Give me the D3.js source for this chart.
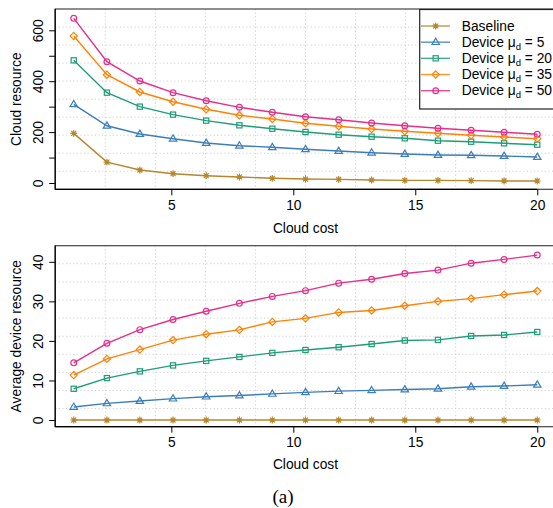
<!DOCTYPE html>
<html>
<head>
<meta charset="utf-8">
<script src="https://cdn.jsdelivr.net/npm/d3@7"></script>
<style>
  body { margin: 0; background: #fff; }
  svg { display: block; }
  text { font-family: "Liberation Sans", Arial, sans-serif; fill: #000; }
</style>
</head>
<body>
<svg id="chart" width="553" height="508"></svg>
<script>
// ---------------- DATA ----------------
const cloudCost = [1, 2.36, 3.71, 5.07, 6.43, 7.79, 9.14, 10.5, 11.86, 13.21, 14.57, 15.93, 17.29, 18.64, 20];

const seriesNames = ["Baseline", "Device μd = 5", "Device μd = 20", "Device μd = 35", "Device μd = 50"];
const seriesMu = [null, "5", "20", "35", "50"];

// Top panel: Cloud resource
const cloudBaseline = [195, 82, 51, 36.5, 28.7, 23.6, 18.5, 15.7, 14.4, 11.8, 10.5, 10.5, 9.2, 7.9, 7.9];
const cloudMu5      = [309, 225, 192.5, 174, 157, 146.6, 140.3, 132.4, 125.7, 119.1, 114, 110, 108.8, 106, 102.2];
const cloudMu20     = [482, 355, 300, 268.6, 245, 226.7, 213.4, 200.4, 189.8, 181.9, 175.6, 166.2, 162.3, 156, 150.5];
const cloudMu35     = [577.6, 425.5, 357.6, 319.4, 289.6, 266, 251.5, 234.6, 222.8, 212.2, 203.1, 195.3, 187.4, 180.7, 174.1];
const cloudMu50     = [647, 476.6, 400.8, 354.9, 323.4, 297.4, 277.8, 260.5, 248.7, 235.8, 225.2, 214.9, 207, 199.2, 191.4];

// Bottom panel: Average device resource
const devBaseline = [0, 0, 0, 0, 0, 0, 0, 0, 0, 0, 0, 0, 0, 0, 0];
const devMu5      = [3.3, 4.2, 4.8, 5.4, 5.9, 6.2, 6.6, 7.0, 7.3, 7.5, 7.7, 7.9, 8.4, 8.6, 8.9];
const devMu20     = [7.9, 10.6, 12.3, 13.8, 14.95, 15.95, 16.97, 17.7, 18.4, 19.2, 20.1, 20.25, 21.25, 21.5, 22.25];
const devMu35     = [11.35, 15.45, 17.8, 20.2, 21.7, 22.8, 24.8, 25.7, 27.2, 27.7, 28.9, 30.0, 30.7, 31.7, 32.6];
const devMu50     = [14.45, 19.4, 22.85, 25.4, 27.5, 29.5, 31.25, 32.7, 34.6, 35.6, 37.05, 37.9, 39.65, 40.6, 41.7];

const xTicks = [5, 10, 15, 20];
const topYTicks = [0, 100, 200, 300, 400, 500, 600];
const topYLabels = [0, 200, 400, 600];
const botYTicks = [0, 10, 20, 30, 40];

const colors = ["#B5862C", "#3B7EBA", "#1E9E78", "#FF8205", "#E62E8B"];
const shapes = ["asterisk", "triangle", "square", "diamond", "circle"];

// ---------------- LAYOUT ----------------
const svg = d3.select("#chart");
const X0 = 55.2, X1 = 555.8;
const FS = "13.8px";
const x = d3.scaleLinear().domain([0.24, 20.76]).range([X0, X1]);

const panels = [
  { y0: 9, y1: 189.3, domain: [-24.75, 683.7], series: [cloudBaseline, cloudMu5, cloudMu20, cloudMu35, cloudMu50],
    yTicks: topYTicks, yLabels: topYLabels, yTitle: "Cloud resource", xLabelBase: 210, xTitleBase: 233 },
  { y0: 245.7, y1: 426.7, domain: [-1.69, 44.07], series: [devBaseline, devMu5, devMu20, devMu35, devMu50],
    yTicks: botYTicks, yLabels: botYTicks, yTitle: "Average device resource", xLabelBase: 446.7, xTitleBase: 469 }
];

function drawMarker(g, shape, cx, cy, color) {
  const sw = 1.2;
  if (shape === "circle") {
    g.append("circle").attr("cx", cx).attr("cy", cy).attr("r", 2.9)
      .attr("fill", "none").attr("stroke", color).attr("stroke-width", sw);
  } else if (shape === "square") {
    const s = 2.6;
    g.append("rect").attr("x", cx - s).attr("y", cy - s).attr("width", 2 * s).attr("height", 2 * s)
      .attr("fill", "none").attr("stroke", color).attr("stroke-width", sw);
  } else if (shape === "diamond") {
    const s = 3.6;
    g.append("path").attr("d", `M${cx},${cy - s}L${cx + s},${cy}L${cx},${cy + s}L${cx - s},${cy}Z`)
      .attr("fill", "none").attr("stroke", color).attr("stroke-width", sw);
  } else if (shape === "triangle") {
    const s = 3.9;
    g.append("path").attr("d", `M${cx},${cy - s}L${cx + s * 0.95},${cy + s * 0.6}L${cx - s * 0.95},${cy + s * 0.6}Z`)
      .attr("fill", "none").attr("stroke", color).attr("stroke-width", sw);
  } else if (shape === "asterisk") {
    const s = 3.4, d = s * 0.72;
    g.append("path").attr("d",
      `M${cx - s},${cy}L${cx + s},${cy}M${cx},${cy - s}L${cx},${cy + s}` +
      `M${cx - d},${cy - d}L${cx + d},${cy + d}M${cx - d},${cy + d}L${cx + d},${cy - d}`)
      .attr("fill", "none").attr("stroke", color).attr("stroke-width", sw);
  }
}

panels.forEach(p => {
  const y = d3.scaleLinear().domain(p.domain).range([p.y1, p.y0]);
  const g = svg.append("g");

  // grid: 10 equal divisions each way (dotted light gray)
  const grid = g.append("g").attr("stroke", "#d0d0d0").attr("stroke-width", 1).attr("stroke-dasharray", "1.2,2.4");
  for (let k = 1; k < 10; k++) {
    const gx = X0 + (X1 - X0) * k / 10;
    grid.append("line").attr("x1", gx).attr("x2", gx).attr("y1", p.y0).attr("y2", p.y1);
    const gy = p.y0 + (p.y1 - p.y0) * k / 10;
    grid.append("line").attr("x1", X0).attr("x2", X1).attr("y1", gy).attr("y2", gy);
  }

  // series lines
  const line = d3.line().x((d, i) => x(cloudCost[i])).y(d => y(d));
  p.series.forEach((vals, si) => {
    g.append("path").datum(vals).attr("d", line)
      .attr("fill", "none").attr("stroke", colors[si]).attr("stroke-width", 1.4);
    const mg = g.append("g");
    vals.forEach((v, i) => drawMarker(mg, shapes[si], x(cloudCost[i]), y(v), colors[si]));
  });

  // box
  g.append("rect").attr("x", X0).attr("y", p.y0).attr("width", X1 - X0).attr("height", p.y1 - p.y0)
    .attr("fill", "none").attr("stroke", "#444").attr("stroke-width", 1.2);

  // y axis
  const yAxis = d3.axisLeft(y).tickValues(p.yTicks).tickSize(6)
    .tickFormat(d => p.yLabels.includes(d) ? d : "");
  const ya = g.append("g").attr("transform", `translate(${X0},0)`).call(yAxis);
  ya.select(".domain").attr("stroke", "#000").attr("stroke-width", 1.2)
    .attr("d", `M0,${p.y0}V${p.y1}`);
  ya.selectAll(".tick line").attr("stroke", "#000").attr("stroke-width", 1);
  ya.selectAll(".tick text")
    .attr("x", 0).attr("y", 0).attr("dy", null)
    .attr("transform", "translate(-11.8,0) rotate(-90)")
    .attr("text-anchor", "middle")
    .style("font-size", FS).style("font-family", "'Liberation Sans', Arial, sans-serif")
    .attr("fill", "#000");

  // x axis
  const xAxis = d3.axisBottom(x).tickValues(xTicks).tickSize(6).tickFormat(d3.format("d"));
  const xa = g.append("g").attr("transform", `translate(0,${p.y1})`).call(xAxis);
  xa.select(".domain").attr("stroke", "#000").attr("stroke-width", 1.2)
    .attr("d", `M${X0},0H${x(20)}`);
  xa.selectAll(".tick line").attr("stroke", "#000").attr("stroke-width", 1);
  xa.selectAll(".tick text").attr("y", p.xLabelBase - p.y1).attr("dy", null)
    .style("font-size", FS).style("font-family", "'Liberation Sans', Arial, sans-serif")
    .attr("fill", "#000");

  // titles
  svg.append("text").attr("transform", `translate(20.5,${(p.y0 + p.y1) / 2}) rotate(-90)`)
    .attr("text-anchor", "middle").style("font-size", FS).text(p.yTitle);
  svg.append("text").attr("x", (X0 + X1) / 2).attr("y", p.xTitleBase)
    .attr("text-anchor", "middle").style("font-size", FS).text("Cloud cost");
});

// ---------------- LEGEND ----------------
const leg = svg.append("g");
leg.append("rect").attr("x", 419.7).attr("y", 9.5).attr("width", X1 - 419.7).attr("height", 99.5)
  .attr("fill", "#fff").attr("stroke", "#222").attr("stroke-width", 1.2);
seriesNames.forEach((name, i) => {
  const cy = 26 + i * 16.17;
  leg.append("line").attr("x1", 421).attr("x2", 450).attr("y1", cy).attr("y2", cy)
    .attr("stroke", colors[i]).attr("stroke-width", 1.4).attr("stroke-opacity", 0.85);
  drawMarker(leg, shapes[i], 435.7, cy, colors[i]);
  const t = leg.append("text").attr("x", 461.7).attr("y", cy + 4.7).style("font-size", FS);
  if (seriesMu[i] === null) {
    t.text(name);
  } else {
    t.append("tspan").text("Device μ");
    t.append("tspan").attr("dy", 3).style("font-size", "9.5px").text("d");
    t.append("tspan").attr("dy", -3).text(" = " + seriesMu[i]);
  }
});

// caption
svg.append("text").attr("x", 283).attr("y", 503).attr("text-anchor", "middle")
  .style("font-family", "'Liberation Serif', 'Times New Roman', serif").style("font-size", "19px")
  .text("(a)");
</script>
</body>
</html>
